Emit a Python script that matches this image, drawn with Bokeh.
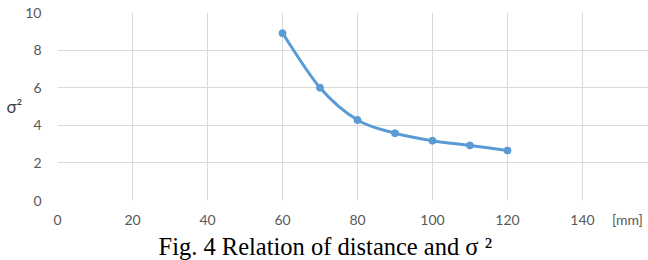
from bokeh.plotting import figure
from bokeh.models import FixedTicker, ColumnDataSource, Range1d, Title
from bokeh.embed import file_html
from bokeh.resources import INLINE

# data
distance = [60, 70, 80, 90, 100, 110, 120]
sigma2 = [8.9, 6.0, 4.28, 3.58, 3.18, 2.93, 2.66]
x_ticks = [0, 20, 40, 60, 80, 100, 120, 140]
y_ticks = [0, 2, 4, 6, 8, 10]
x_unit = "[mm]"
x_unit_pos = 152          # where the unit text sits, right of the last tick
y_label = "σ²"
caption = "Fig. 4 Relation of distance and\u00a0σ\u00a0²"

BLUE = "#5B9BD5"
GRID = "#D9D9D9"
TICK = "#595959"
FONT = "Lato"

x_max = 157.6
p = figure(width=648, height=260, output_backend="svg", toolbar_location=None,
           x_range=Range1d(0, x_max), y_range=Range1d(0, 10),
           min_border_left=57, min_border_right=0, min_border_top=12, min_border_bottom=60)
p.outline_line_color = None
p.background_fill_color = "white"
p.border_fill_color = "white"

# grids
p.xgrid.ticker = FixedTicker(ticks=x_ticks)
p.ygrid.ticker = FixedTicker(ticks=y_ticks)
p.ygrid.bounds = (x_ticks[0], x_ticks[-1])
for g in (p.xgrid, p.ygrid):
    g.grid_line_color = GRID
    g.grid_line_width = 1

# axes
p.xaxis.ticker = FixedTicker(ticks=x_ticks + [x_unit_pos])
p.xaxis.major_label_overrides = {x_unit_pos: x_unit}
p.yaxis.ticker = FixedTicker(ticks=y_ticks)
for ax in (p.xaxis, p.yaxis):
    ax.major_tick_line_color = None
    ax.minor_tick_line_color = None
    ax.major_label_text_font = FONT
    ax.major_label_text_font_size = "14px"
    ax.major_label_text_color = TICK
p.xaxis.axis_line_color = None
p.yaxis.axis_line_color = None
p.xaxis.major_label_standoff = 4
p.yaxis.major_label_standoff = 10
p.yaxis.axis_label = y_label
p.yaxis.axis_label_orientation = "horizontal"
p.yaxis.axis_label_text_font = FONT
p.yaxis.axis_label_text_font_size = "17px"
p.yaxis.axis_label_text_font_style = "normal"
p.yaxis.axis_label_text_color = "#404040"
p.yaxis.axis_label_standoff = 0

# smooth curve (Excel-like bezier between data points)
n = len(distance)
x0, y0, x1, y1, cx0, cy0, cx1, cy1 = [], [], [], [], [], [], [], []
for i in range(n - 1):
    xp, yp = (distance[i - 1], sigma2[i - 1]) if i > 0 else (distance[i], sigma2[i])
    xn2, yn2 = (distance[i + 2], sigma2[i + 2]) if i + 2 < n else (distance[i + 1], sigma2[i + 1])
    x0.append(distance[i]); y0.append(sigma2[i])
    x1.append(distance[i + 1]); y1.append(sigma2[i + 1])
    cx0.append(distance[i] + (distance[i + 1] - xp) / 6)
    cy0.append(sigma2[i] + (sigma2[i + 1] - yp) / 6)
    cx1.append(distance[i + 1] - (xn2 - distance[i]) / 6)
    cy1.append(sigma2[i + 1] - (yn2 - sigma2[i]) / 6)
src = ColumnDataSource(dict(x0=x0, y0=y0, x1=x1, y1=y1, cx0=cx0, cy0=cy0, cx1=cx1, cy1=cy1))
p.bezier(x0="x0", y0="y0", x1="x1", y1="y1", cx0="cx0", cy0="cy0", cx1="cx1", cy1="cy1",
         source=src, line_color=BLUE, line_width=3)
p.scatter(distance, sigma2, size=7, color=BLUE)

# caption
cap = Title(text=caption, align="left", offset=101, standoff=0,
            text_font="Liberation Serif", text_font_size="24.5px",
            text_font_style="normal", text_color="black")
p.add_layout(cap, "below")

open("out.html", "w").write(file_html(p, INLINE))
